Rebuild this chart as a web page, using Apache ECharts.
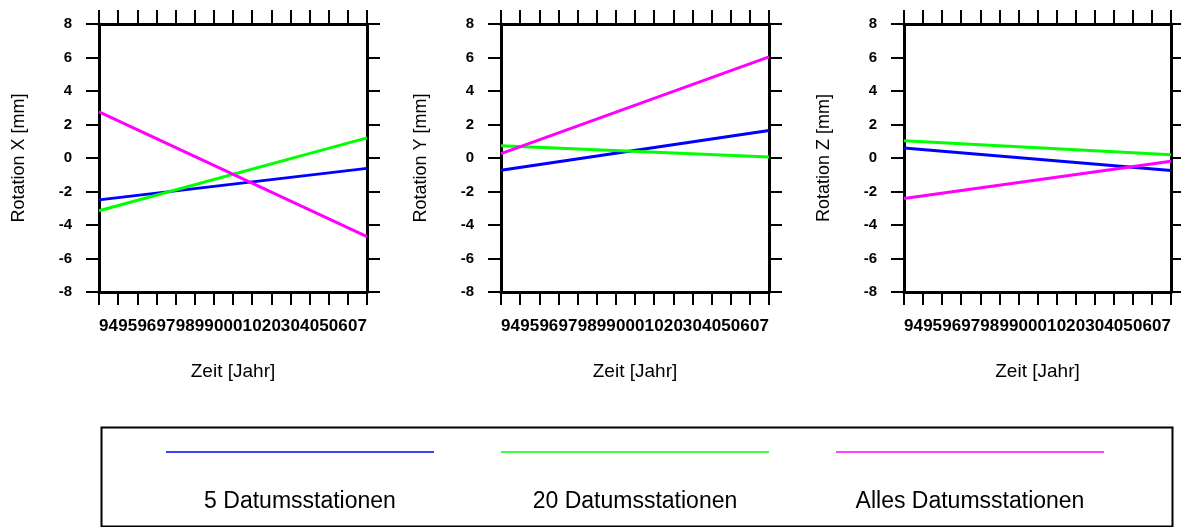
<!DOCTYPE html>
<html>
<head>
<meta charset="utf-8">
<script src="https://cdn.jsdelivr.net/npm/echarts@6/dist/echarts.min.js"></script>
<style>
  html, body { margin: 0; padding: 0; background: #fff; }
  #chart { width: 1181px; height: 527px; }
</style>
</head>
<body>
<div id="chart"></div>
<script>
// Year categories (two-digit labels, one per year interval)
const yearLabels = ['94', '95', '96', '97', '98', '99', '00', '01', '02', '03', '04', '05', '06', '07'];
// Trend lines run from the start of 1994 to the end of 2007
const lineYears = [1994, 2008];

const seriesNames = ['5 Datumsstationen', '20 Datumsstationen', 'Alles Datumsstationen'];
const seriesColors = ['#0000ff', '#00ff00', '#ff00ff'];

const panelTitles = ['Rotation X [mm]', 'Rotation Y [mm]', 'Rotation Z [mm]'];

// Start / end values of each trend line [mm]
const rotX5   = [-2.5, -0.62];
const rotX20  = [-3.15, 1.2];
const rotXAll = [2.75, -4.7];

const rotY5   = [-0.73, 1.64];
const rotY20  = [0.73, 0.06];
const rotYAll = [0.26, 6.04];

const rotZ5   = [0.59, -0.75];
const rotZ20  = [1.03, 0.2];
const rotZAll = [-2.42, -0.2];

const panelValues = [
  [rotX5, rotX20, rotXAll],
  [rotY5, rotY20, rotYAll],
  [rotZ5, rotZ20, rotZAll]
];

const yMin = -8, yMax = 8, yStep = 2;

const FONT = '"Liberation Sans", Arial, Helvetica, sans-serif';
const gridLefts = [99, 501, 904];
const gridWidths = [268, 268, 267];

const grids = [], xAxes = [], yAxes = [], series = [];

panelValues.forEach(function (panel, p) {
  grids.push({ left: gridLefts[p], top: 24, width: gridWidths[p], height: 268 });

  // bottom category axis: ticks at year boundaries, labels centred in each year
  xAxes.push({
    type: 'category', gridIndex: p, position: 'bottom', data: yearLabels, boundaryGap: true,
    axisLine: { show: true, onZero: false, lineStyle: { color: '#000', width: 3 } },
    axisTick: { show: true, inside: false, length: 13, interval: 0, lineStyle: { color: '#000', width: 2 } },
    axisLabel: { interval: 0, margin: 26, color: '#000', fontFamily: FONT, fontWeight: 'bold', fontSize: 17 },
    splitLine: { show: false },
    name: 'Zeit [Jahr]', nameLocation: 'middle', nameGap: 70,
    nameTextStyle: { color: '#000', fontFamily: FONT, fontSize: 19 }
  });
  // top category axis: ticks only
  xAxes.push({
    type: 'category', gridIndex: p, position: 'top', data: yearLabels, boundaryGap: true,
    axisLine: { show: true, onZero: false, lineStyle: { color: '#000', width: 3 } },
    axisTick: { show: true, inside: false, length: 14, interval: 0, lineStyle: { color: '#000', width: 2 } },
    axisLabel: { show: false },
    splitLine: { show: false }
  });
  // continuous time axis used to place the trend lines
  xAxes.push({
    type: 'value', gridIndex: p, show: false, min: lineYears[0], max: lineYears[1],
    axisLine: { onZero: false }
  });

  yAxes.push({
    type: 'value', gridIndex: p, position: 'left', min: yMin, max: yMax, interval: yStep,
    axisLine: { show: true, onZero: false, lineStyle: { color: '#000', width: 3 } },
    axisTick: { show: true, inside: false, length: 13, lineStyle: { color: '#000', width: 2 } },
    axisLabel: { margin: 27, color: '#000', fontFamily: FONT, fontWeight: 'bold', fontSize: 15 },
    splitLine: { show: false },
    name: panelTitles[p], nameLocation: 'middle', nameGap: 71,
    nameTextStyle: { color: '#000', fontFamily: FONT, fontSize: 18 }
  });
  yAxes.push({
    type: 'value', gridIndex: p, position: 'right', min: yMin, max: yMax, interval: yStep,
    axisLine: { show: true, onZero: false, lineStyle: { color: '#000', width: 3 } },
    axisTick: { show: true, inside: false, length: 13, lineStyle: { color: '#000', width: 2 } },
    axisLabel: { show: false },
    splitLine: { show: false }
  });

  panel.forEach(function (vals, s) {
    series.push({
      type: 'line', name: seriesNames[s],
      xAxisIndex: p * 3 + 2, yAxisIndex: p * 2,
      data: [[lineYears[0], vals[0]], [lineYears[1], vals[1]]],
      showSymbol: false, silent: true, animation: false,
      lineStyle: { color: seriesColors[s], width: 3 },
      itemStyle: { color: seriesColors[s] },
      z: 1
    });
  });
});

// Legend box beneath the panels: a line sample above each label
const legendBox = { x: 99, y: 425, w: 1071, h: 99 };
const legendCenters = [300, 635, 970];
const legendHalf = 134;
const graphics = [{
  type: 'rect', left: legendBox.x, top: legendBox.y, silent: true,
  shape: { width: legendBox.w, height: legendBox.h },
  style: { fill: 'none', stroke: '#000', lineWidth: 2 }
}];
seriesNames.forEach(function (name, i) {
  graphics.push({
    type: 'line', silent: true,
    shape: { x1: legendCenters[i] - legendHalf, y1: 452, x2: legendCenters[i] + legendHalf, y2: 452 },
    style: { stroke: seriesColors[i], lineWidth: 1.6 }
  });
  graphics.push({
    type: 'text', silent: true, x: legendCenters[i], y: 502,
    style: { text: name, fill: '#000', font: '23px ' + FONT, textAlign: 'center', textVerticalAlign: 'middle' }
  });
});

const chart = echarts.init(document.getElementById('chart'), null, { renderer: 'canvas' });
chart.setOption({
  backgroundColor: '#fff',
  animation: false,
  grid: grids,
  xAxis: xAxes,
  yAxis: yAxes,
  series: series,
  graphic: graphics
});
</script>
</body>
</html>
